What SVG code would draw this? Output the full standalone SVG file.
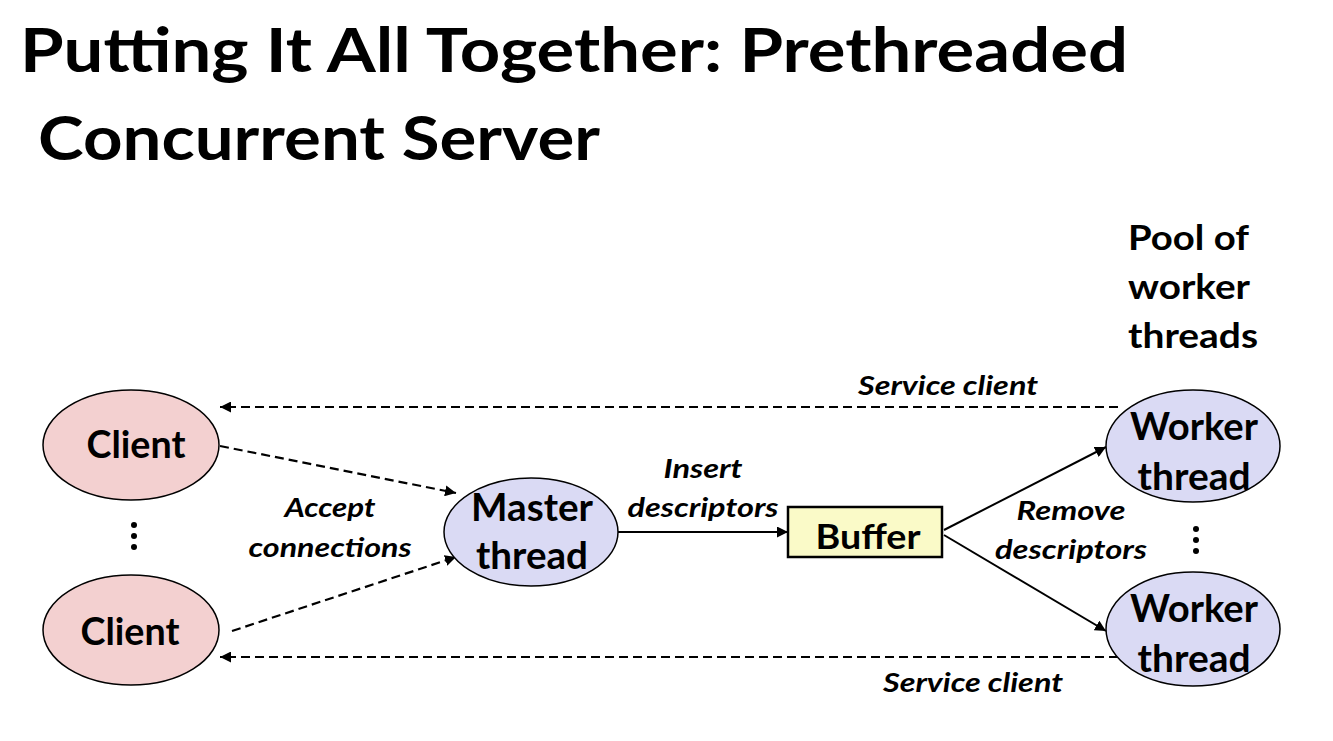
<svg xmlns="http://www.w3.org/2000/svg" width="1333" height="741" viewBox="0 0 1333 741">
<defs>
<style>
.title{font-family:Lato,"Open Sans","Liberation Sans",sans-serif;font-weight:bold;font-size:62px;fill:#000}
.node{font-family:Lato,"Open Sans","Liberation Sans",sans-serif;font-weight:bold;font-size:38px;fill:#000;text-anchor:middle}
.lbl{font-family:Lato,"Open Sans","Liberation Sans",sans-serif;font-weight:bold;font-style:italic;font-size:27px;fill:#000;text-anchor:middle}
.pool{font-family:Lato,"Open Sans","Liberation Sans",sans-serif;font-weight:bold;font-size:35px;fill:#000}
.client{fill:#f3d0d0;stroke:#000;stroke-width:1.5}
.thr{fill:#dadaf4;stroke:#000;stroke-width:1.5}
.buf{fill:#fafac8;stroke:#000;stroke-width:2.5}
.dash{fill:none;stroke:#000;stroke-width:2.2;stroke-dasharray:9 5}
.solid{fill:none;stroke:#000;stroke-width:2}
</style>
<marker id="ah" viewBox="0 0 10 10" refX="10" refY="5" markerWidth="11" markerHeight="11" markerUnits="userSpaceOnUse" orient="auto">
<path d="M0,0 L10,5 L0,10 z" fill="#000"/>
</marker>
</defs>
<rect width="1333" height="741" fill="#fff"/>
<g id="title">
<text class="title" x="20" y="72" textLength="1108" lengthAdjust="spacingAndGlyphs">Putting It All Together: Prethreaded</text>
<text class="title" x="38" y="160" textLength="562" lengthAdjust="spacingAndGlyphs">Concurrent Server</text>
</g>
<g id="connectors">
<line class="dash" x1="1118" y1="407" x2="220" y2="407" marker-end="url(#ah)"/>
<line class="dash" x1="1118" y1="657" x2="220" y2="657" marker-end="url(#ah)"/>
<line class="dash" x1="220" y1="446" x2="456" y2="493" marker-end="url(#ah)"/>
<line class="dash" x1="232" y1="631" x2="456" y2="557" marker-end="url(#ah)"/>
<line class="solid" x1="618" y1="532" x2="788" y2="532" marker-end="url(#ah)"/>
<line class="solid" x1="944" y1="530" x2="1106" y2="447" marker-end="url(#ah)"/>
<line class="solid" x1="944" y1="535" x2="1106" y2="631" marker-end="url(#ah)"/>
</g>
<g id="labels">
<text class="lbl" x="948" y="395" textLength="180" lengthAdjust="spacingAndGlyphs">Service client</text>
<text class="lbl" x="973" y="692" textLength="180" lengthAdjust="spacingAndGlyphs">Service client</text>
<text class="lbl" x="703" y="478" textLength="79" lengthAdjust="spacingAndGlyphs">Insert</text>
<text class="lbl" x="703" y="517" textLength="151" lengthAdjust="spacingAndGlyphs">descriptors</text>
<text class="lbl" x="330" y="517" textLength="91" lengthAdjust="spacingAndGlyphs">Accept</text>
<text class="lbl" x="330" y="557" textLength="163" lengthAdjust="spacingAndGlyphs">connections</text>
<text class="lbl" x="1071" y="520" textLength="109" lengthAdjust="spacingAndGlyphs">Remove</text>
<text class="lbl" x="1071" y="559" textLength="152" lengthAdjust="spacingAndGlyphs">descriptors</text>
</g>
<g id="pool-label">
<text class="pool" x="1128" y="250" textLength="121" lengthAdjust="spacingAndGlyphs">Pool of</text>
<text class="pool" x="1128" y="299" textLength="122" lengthAdjust="spacingAndGlyphs">worker</text>
<text class="pool" x="1128" y="348" textLength="130" lengthAdjust="spacingAndGlyphs">threads</text>
</g>
<g id="client1">
<ellipse class="client" cx="131" cy="445" rx="88" ry="55"/>
<text class="node" x="136" y="458" textLength="99" lengthAdjust="spacingAndGlyphs">Client</text>
</g>
<g id="client-dots">
<circle cx="134" cy="525" r="3"/>
<circle cx="134" cy="536" r="3"/>
<circle cx="134" cy="547" r="3"/>
</g>
<g id="client2">
<ellipse class="client" cx="131" cy="630" rx="88" ry="55"/>
<text class="node" x="130" y="645" textLength="99" lengthAdjust="spacingAndGlyphs">Client</text>
</g>
<g id="master">
<ellipse class="thr" cx="531" cy="532" rx="87" ry="54"/>
<text class="node" x="532" y="521" textLength="122" lengthAdjust="spacingAndGlyphs">Master</text>
<text class="node" x="532" y="569" textLength="112" lengthAdjust="spacingAndGlyphs">thread</text>
</g>
<g id="buffer">
<rect class="buf" x="788" y="507" width="154" height="50"/>
<text class="node" x="868" y="549" style="font-size:35px" textLength="105" lengthAdjust="spacingAndGlyphs">Buffer</text>
</g>
<g id="worker1">
<ellipse class="thr" cx="1193" cy="446" rx="87" ry="56"/>
<text class="node" x="1194" y="440" textLength="128" lengthAdjust="spacingAndGlyphs">Worker</text>
<text class="node" x="1194" y="490" textLength="113" lengthAdjust="spacingAndGlyphs">thread</text>
</g>
<g id="worker-dots">
<circle cx="1196" cy="529" r="3"/>
<circle cx="1196" cy="540" r="3"/>
<circle cx="1196" cy="551" r="3"/>
</g>
<g id="worker2">
<ellipse class="thr" cx="1193" cy="629" rx="87" ry="57"/>
<text class="node" x="1194" y="622" textLength="128" lengthAdjust="spacingAndGlyphs">Worker</text>
<text class="node" x="1194" y="672" textLength="113" lengthAdjust="spacingAndGlyphs">thread</text>
</g>
</svg>
